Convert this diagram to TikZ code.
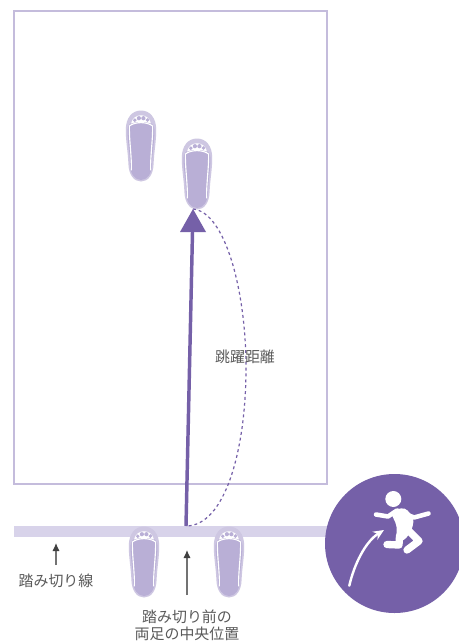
\documentclass[tikz,border=0pt]{standalone}
\usepackage{fontspec}
\setmainfont{Noto Sans CJK JP}
\usetikzlibrary{arrows.meta}
\definecolor{deep}{HTML}{7560A8}
\definecolor{frame}{HTML}{C4BCDC}
\definecolor{band}{HTML}{D8D3EA}
\definecolor{soleout}{HTML}{CEC7E2}
\definecolor{soleins}{HTML}{B9AFD6}
\definecolor{txt}{HTML}{5A5A5A}
\tikzset{
  x=0.75pt,y=-0.75pt,
  lbl/.style={text=txt,font=\fontsize{11.2pt}{13pt}\selectfont,align=center,inner sep=0pt},
  pointer/.style={draw=txt!85!white,line width=0.9pt,-{Latex[length=6pt,width=5.5pt,color=black!75]}},
  foot/.pic={
    \fill[soleout] (0,-35.5) .. controls (9,-35.5) and (15,-28) .. (15.2,-17)
      .. controls (15.4,-5) and (13,6) .. (12.6,18)
      .. controls (12.2,29) and (7,35.5) .. (0,35.5)
      .. controls (-7,35.5) and (-12.2,29) .. (-12.6,18)
      .. controls (-13,6) and (-15.4,-5) .. (-15.2,-17)
      .. controls (-15,-28) and (-9,-35.5) .. (0,-35.5) -- cycle;
    \fill[soleins] (0,-25) .. controls (7,-25) and (13,-24) .. (13.4,-16)
      .. controls (13.6,-4) and (11,7) .. (11,18)
      .. controls (11,28) and (6,34) .. (0,34)
      .. controls (-6,34) and (-11,28) .. (-11,18)
      .. controls (-11,7) and (-13.6,-4) .. (-13.4,-16)
      .. controls (-13,-24) and (-7,-25) .. (0,-25) -- cycle;
    \draw[white,line width=0.85pt,line cap=round,line join=round]
      (9.6,24) .. controls (9.4,8) and (11.8,-4) .. (11.6,-20)
      .. controls (6,-24.5) and (-6,-24.5) .. (-11.6,-20)
      .. controls (-11.8,-4) and (-9.4,8) .. (-9.6,24);
    \fill[white] (-10,-22.5) .. controls (-7.5,-33.5) and (7.5,-33.5) .. (10,-22.5) .. controls (5,-24.5) and (-5,-24.5) .. (-10,-22.5) -- cycle;
    \fill[soleins] (-6.2,-25.8) circle (1.9) (-2.1,-27.8) circle (2.1) (2.4,-27.8) circle (2.1) (6.4,-26) circle (1.9);
  }
}
\begin{document}
\begin{tikzpicture}
\useasboundingbox (0,0) rectangle (458,642);
\fill[white] (0,0) rectangle (458,642);
\draw[frame,line width=2.1pt] (14,11) rectangle (327,484);
\fill[band] (14,526) rectangle (332,537);
\coordinate (foottip) at (193,209);
\coordinate (mainbase) at (186,526);
\coordinate (apexbase) at (192.5,232);
\coordinate (mid) at (246,368);
\pic at (141,146) {foot};
\pic at (197,174) {foot};
\pic at (144,562) {foot};
\pic at (229,562) {foot};
\draw[deep,line width=0.9pt,dash pattern=on 2.2pt off 2.2pt] (foottip) .. controls (225,212) and (246,290) .. (mid) .. controls (246,450) and (225,526) .. (mainbase);
\draw[deep,line width=2.6pt] (mainbase) -- (apexbase);
\fill[deep] (foottip) -- (206,232) -- (180,232) -- cycle;
\node[lbl] (dist) at (245,357) {跳躍距離};
\node[lbl] (line) at (56,581) {踏み切り線};
\node[lbl] (center) at (187,625) {踏み切り前の\\両足の中央位置};
\coordinate (p1) at (56,565); \coordinate (p1e) at (56,543);
\coordinate (p2) at (187,595); \coordinate (p2e) at (187,550);
\draw[pointer] (p1) -- (p1e);
\draw[pointer] (p2) -- (p2e);
\fill[deep] (394.5,543.5) circle (69.5);
% runner
\fill[white] (393.3,499) circle (8);
\draw[white,line width=3.4pt,line cap=round,line join=round] (376,514.5) -- (388,516.5) -- (397,510.5) -- (414,517.5) -- (428.5,513.5);
\fill[white,rounded corners=3pt] (390,511) -- (405,507.5) -- (414,518) -- (412,530) -- (404,541) -- (396,541) -- (397,526) -- cycle;
\draw[white,line width=5.5pt,line cap=round,line join=round] (399.5,536) -- (399,545) -- (387,544.5);
\draw[white,line width=5.5pt,line cap=round,line join=round] (408,530) -- (419,541) -- (407,550);
\coordinate (ra) at (349.3,585.7); \coordinate (rb) at (384,530);
\draw[white,line width=1.8pt,line cap=round,-{Stealth[length=8pt,width=7pt]}] (ra) .. controls (354,565) and (365,542) .. (rb);
\end{tikzpicture}
\end{document}
